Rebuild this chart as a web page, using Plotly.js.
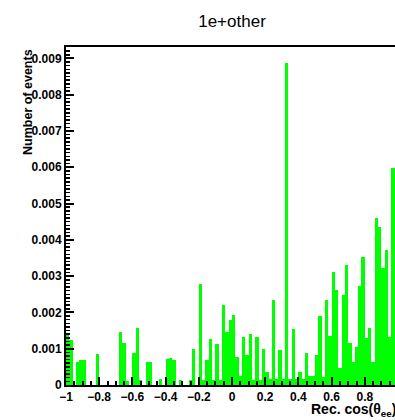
<!DOCTYPE html>
<html>
<head>
<meta charset="utf-8">
<script src="https://cdn.plot.ly/plotly-3.0.1.min.js"></script>
<style>
  html, body { margin: 0; padding: 0; background: #ffffff; overflow: hidden; }
  #chart { width: 430px; height: 420px; }
</style>
</head>
<body>
<div id="chart"></div>
<script>
// Histogram of reconstructed cos(theta_ee): 100 bins from -1 to 1
const binLow = -1;
const binHigh = 1;
const nBins = 100;

// Bin contents (normalised number of events), bin 0 .. bin 98
const counts = [
  0.00143, 0.00125, 0, 0.00064, 0.00070, 0.00070, 0, 0, 0, 0.00085,
  0, 0, 0, 0, 0, 0, 0.00147, 0.00115, 0.00010, 0,
  0.00088, 0.00157, 0.00014, 0, 0.00064, 0.00064, 0, 0, 0.00017, 0,
  0.00073, 0.00075, 0.00070, 0, 0.00014, 0, 0, 0.00014, 0.00100, 0,
  0.00279, 0.00014, 0.00069, 0.00126, 0.00014, 0.00113, 0.00014, 0.00220, 0.00147, 0.00178,
  0.00193, 0.00076, 0.00025, 0.00133, 0.00083, 0.00141, 0.00014, 0.00131, 0.00014, 0.00100,
  0.00037, 0.00017, 0.00235, 0.00017, 0.00097, 0.00017, 0.00887, 0.00017, 0.00154, 0.00017,
  0.00037, 0.00016, 0.00088, 0.00026, 0.00026, 0.00083, 0.00191, 0.00023, 0.00235, 0.00135,
  0.00311, 0.00262, 0.00046, 0.00249, 0.00330, 0.00115, 0.00064, 0.00106, 0.00273, 0.00354,
  0.00129, 0.00157, 0.00064, 0.00460, 0.00436, 0.00322, 0.00373, 0.00133, 0.00597
];

// Axis tick labels
const xTickVals = [-1, -0.8, -0.6, -0.4, -0.2, 0, 0.2, 0.4, 0.6, 0.8];
const xTickText = ['\u22121', '\u22120.8', '\u22120.6', '\u22120.4', '\u22120.2', '0', '0.2', '0.4', '0.6', '0.8'];
const yTickVals = [0, 0.001, 0.002, 0.003, 0.004, 0.005, 0.006, 0.007, 0.008, 0.009];
const yTickText = ['0', '0.001', '0.002', '0.003', '0.004', '0.005', '0.006', '0.007', '0.008', '0.009'];

const binWidth = (binHigh - binLow) / nBins;
const centers = counts.map((_, i) => binLow + binWidth * (i + 0.5));
const yMax = 1.05 * Math.max(...counts);

const font = 'Liberation Sans, Arial, Helvetica, sans-serif';
const green = '#00ff00';

const trace = {
  type: 'bar',
  x: centers,
  y: counts,
  width: binWidth,
  marker: { color: green, line: { width: 0 } },
  hoverinfo: 'x+y'
};

const axisCommon = {
  showline: true,
  linecolor: '#000000',
  linewidth: 2,
  mirror: true,
  ticks: 'inside',
  ticklen: 8,
  tickwidth: 2,
  tickcolor: '#000000',
  showgrid: false,
  zeroline: false,
  tickfont: { family: font, size: 12, color: '#000000', weight: 'bold' }
};

const layout = {
  width: 430,
  height: 420,
  margin: { l: 66, r: 32, t: 47, b: 35 },
  paper_bgcolor: '#ffffff',
  plot_bgcolor: '#ffffff',
  showlegend: false,
  bargap: 0,
  title: {
    text: '1e+other',
    font: { family: font, size: 17, color: '#000000' },
    x: 232 / 430,
    xref: 'container',
    xanchor: 'center',
    y: 1 - 21 / 420,
    yref: 'container',
    yanchor: 'middle'
  },
  xaxis: Object.assign({}, axisCommon, {
    range: [binLow, binHigh],
    tickmode: 'array',
    tickvals: xTickVals,
    ticktext: xTickText,
    minor: { dtick: 0.05, tick0: 0, ticks: 'inside', ticklen: 4, tickwidth: 2, tickcolor: '#000000', showgrid: false }
  }),
  yaxis: Object.assign({}, axisCommon, {
    range: [0, yMax],
    tickmode: 'array',
    tickvals: yTickVals,
    ticktext: yTickText,
    minor: { dtick: 0.0001, tick0: 0, ticks: 'inside', ticklen: 4, tickwidth: 1.5, tickcolor: '#000000', showgrid: false }
  }),
  annotations: [
    {
      text: 'Number of events',
      textangle: -90,
      xref: 'paper', yref: 'paper',
      x: -0.1145, y: 1,
      xanchor: 'center', yanchor: 'top',
      showarrow: false,
      font: { family: font, size: 12.5, color: '#000000', weight: 'bold' }
    },
    {
      text: 'Rec. cos(\u03b8<sub>ee</sub>)',
      xref: 'paper', yref: 'paper',
      x: 1, y: -0.075,
      xanchor: 'right', yanchor: 'middle',
      showarrow: false,
      font: { family: font, size: 14, color: '#000000', weight: 'bold' }
    }
  ]
};

Plotly.newPlot('chart', [trace], layout, { displayModeBar: false, staticPlot: true });
</script>
</body>
</html>
